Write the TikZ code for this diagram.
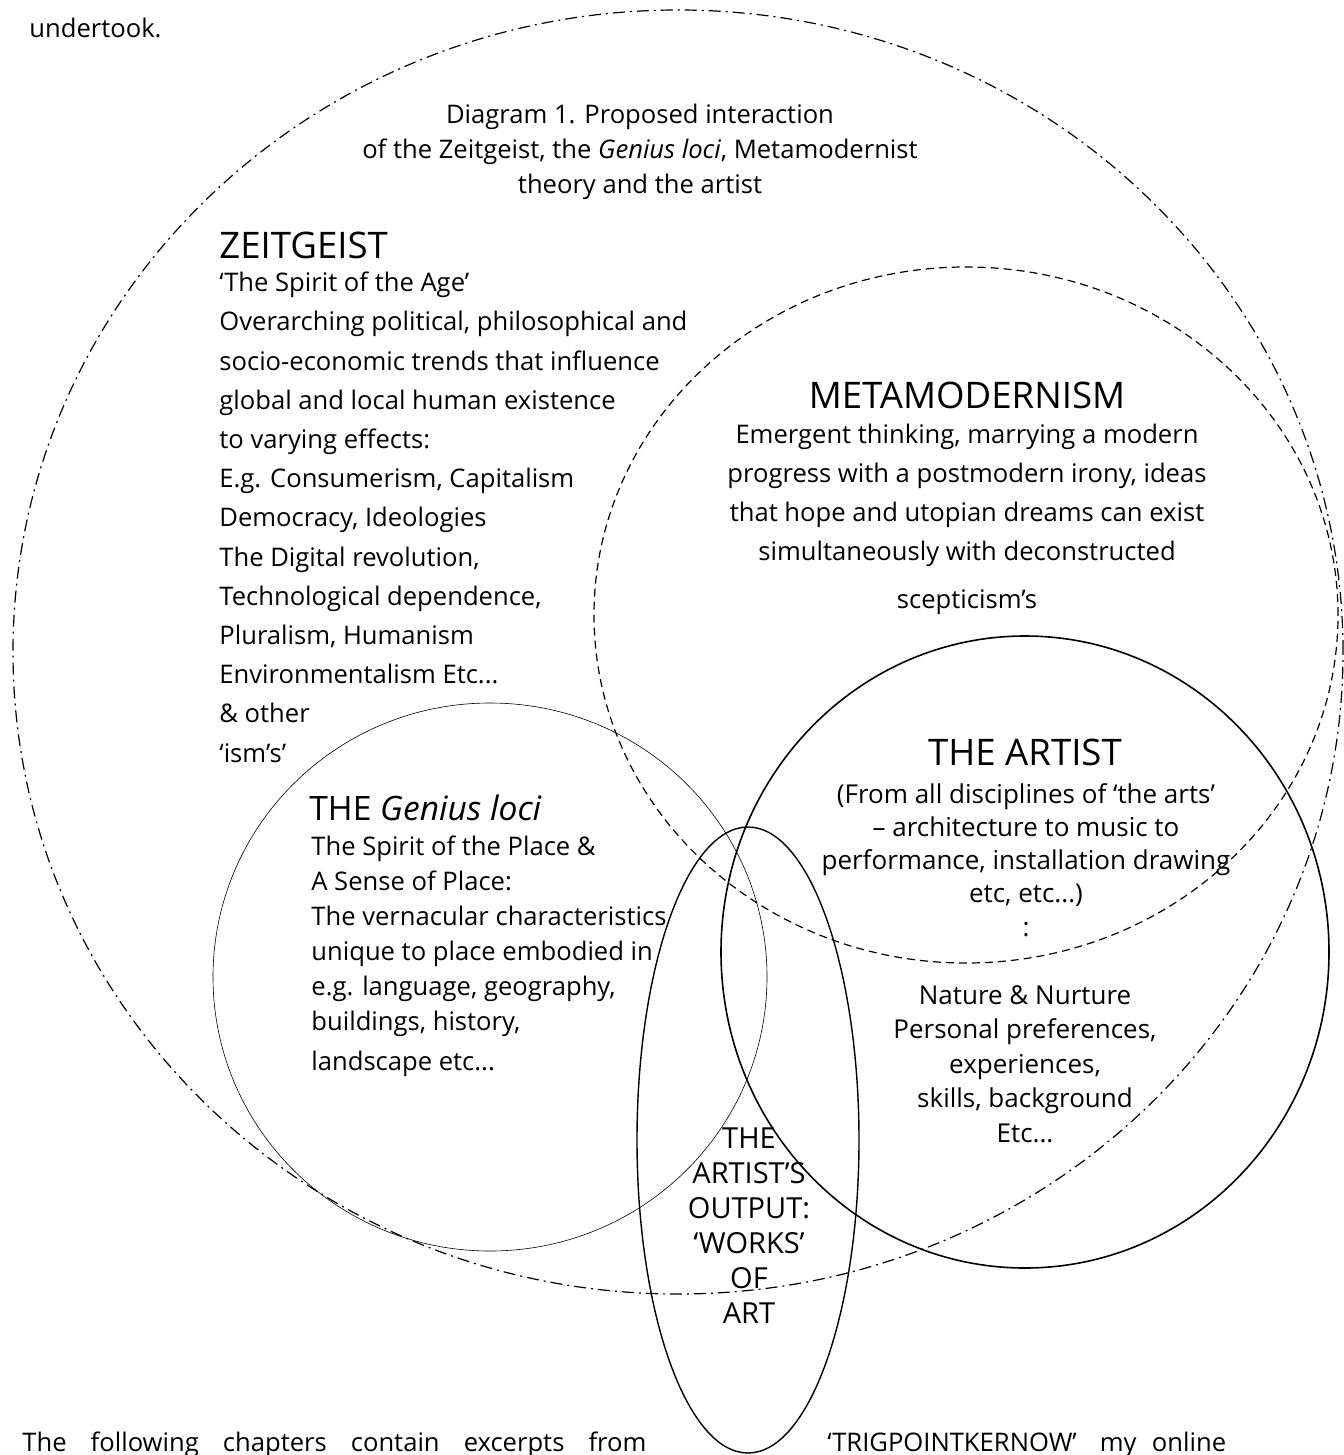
\documentclass[tikz,border=0pt]{standalone}
\usepackage{fontspec}
\setmainfont{Open Sans}
\usetikzlibrary{shapes,arrows,positioning,calc}

\begin{document}
\begin{tikzpicture}[x=0.5pt,y=-0.5pt]
\tikzstyle{ring} = [ellipse, inner sep=0pt, draw=black]
\tikzstyle{dashdotring} = [ring, line width=0.6pt, dash pattern=on 6pt off 2.5pt on 1pt off 2.5pt]
\tikzstyle{dashring} = [ring, line width=0.6pt, dash pattern=on 4pt off 2.5pt]
\tikzstyle{thinring} = [ring, line width=0.3pt]
\tikzstyle{solidring} = [ring, line width=0.8pt]
\tikzstyle{heading} = [inner sep=0pt, font=\fontsize{18.3}{21}\selectfont]
\tikzstyle{body} = [inner sep=0pt, align=left, font=\fontsize{12.8}{19.6}\selectfont]
\tikzstyle{tight} = [inner sep=0pt, align=center, font=\fontsize{12.8}{17.5}\selectfont]

\useasboundingbox (0,0) rectangle (1343,1455);

% the rings
\node (zeitring) [dashdotring, minimum width=665pt, minimum height=642pt] at (678,652) {};
\node (metaring) [dashring, minimum width=372pt, minimum height=348pt] at (966,615) {};
\node (placering) [thinring, minimum width=277pt, minimum height=274pt] at (490,977) {};
\node (artistring) [solidring, minimum width=304pt, minimum height=316pt] at (1025,952) {};
\node (outputring) [solidring, line width=0.7pt, minimum width=111pt, minimum height=313pt] at (748,1140) {};

% running text of the page (anchored at the last baseline)
\node (before) [body, anchor=base west] at (29,38) {undertook.};
\node (afterleft) [body, anchor=base west, text width=312pt] at (22,1451) {The\hfill following\hfill chapters\hfill contain\hfill excerpts\hfill from};
\node (afterright) [body, anchor=base west] at (827,1451) {‘TRIGPOINTKERNOW’\hspace{0.9em}my\hspace{0.6em}online};

% caption
\node (caption) [tight, anchor=base] at (640,194) {Diagram 1. Proposed interaction\\ of the Zeitgeist, the \textit{Genius loci}, Metamodernist\\ theory and the artist};

% zeitgeist
\node (zeittitle) [heading, anchor=base west] at (219,258) {ZEITGEIST};
\node (zeittext) [body, anchor=base west] at (219,762) {‘The Spirit of the Age’\\ Overarching political, philosophical and\\ socio-economic trends that influence\\ global and local human existence\\ to varying effects:\\ E.g. Consumerism, Capitalism\\ Democracy, Ideologies\\ The Digital revolution,\\ Technological dependence,\\ Pluralism, Humanism\\ Environmentalism Etc...\\ \& other\\ ‘ism’s’};

% metamodernism
\node (metatitle) [heading, anchor=base] at (967,408) {METAMODERNISM};
\node (metatext) [body, align=center, anchor=base] at (967,608) {Emergent thinking, marrying a modern\\ progress with a postmodern irony, ideas\\ that hope and utopian dreams can exist\\ simultaneously with deconstructed\\[4pt] scepticism’s};

% genius loci
\node (placetitle) [heading, font=\fontsize{16.8}{19}\selectfont, anchor=base west] at (309,820) {THE \textit{Genius loci}};
\node (placetext) [tight, align=left, anchor=base west] at (311,1070) {The Spirit of the Place \&\\ A Sense of Place:\\ The vernacular characteristics\\ unique to place embodied in\\ e.g. language, geography,\\ buildings, history,\\[2.5pt] landscape etc...};

% the artist
\node (artisttitle) [heading, anchor=base] at (1025,765) {THE ARTIST};
\node (artisttext) [tight, font=\fontsize{13}{16.6}\selectfont, anchor=base] at (1026,936) {(From all disciplines of ‘the arts’\\ – architecture to music to\\ performance, installation drawing\\ etc, etc...)\\ :};
\node (artistmore) [tight, font=\fontsize{13}{17.2}\selectfont, anchor=base] at (1025,1142) {Nature \& Nurture\\ Personal preferences,\\ experiences,\\ skills, background\\ Etc...};

% the output
\node (outputtext) [tight, font=\fontsize{14.5}{17.5}\selectfont, anchor=base] at (749,1323) {THE\\ ARTIST’S\\ OUTPUT:\\ ‘WORKS’\\ OF\\ ART};

\end{tikzpicture}
\end{document}
